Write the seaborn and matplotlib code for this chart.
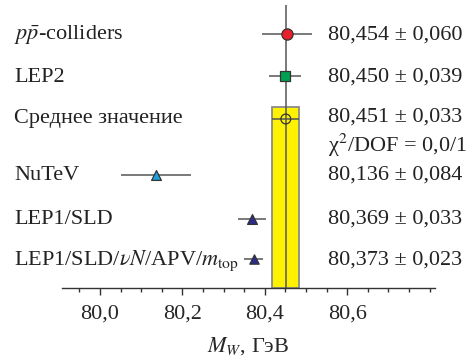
import matplotlib
matplotlib.use("Agg")
import matplotlib.pyplot as plt
import matplotlib.transforms as mtransforms
from matplotlib.ticker import FixedLocator, FixedFormatter, MultipleLocator
import seaborn as sns
import pandas as pd

# ---- data ----
labels = ["$p\\bar{p}$-colliders", "LEP2", "Среднее значение", "NuTeV",
          "LEP1/SLD", "LEP1/SLD/$\\nu N$/APV/$m_{\\rm top}$"]
values = [80.454, 80.450, 80.451, 80.136, 80.369, 80.373]
errors = [0.060, 0.039, 0.033, 0.084, 0.033, 0.023]
value_texts = ["80,454 ± 0,060", "80,450 ± 0,039", "80,451 ± 0,033", "80,136 ± 0,084",
               "80,369 ± 0,033", "80,373 ± 0,023"]
chi2_text = "χ$^2$/DOF = 0,0/1"
mean_value = 80.451
mean_error = 0.033
tick_values = [80.0, 80.2, 80.4, 80.6]
tick_labels = ["80,0", "80,2", "80,4", "80,6"]
xlabel = "$M_W$, ГэВ"

# ---- layout / style ----
row_y = [33.5, 76, 119, 175, 219, 259]
label_y = [35, 77, 119, 175, 219, 261]
text_y = [35, 77, 117, 175, 219, 260]
chi_y = 145
kinds = ["pp", "lep2", "avg", "nutev", "lep1", "lep1b"]
palette = {"pp": "#e82028", "lep2": "#00a050", "avg": "#fff200",
           "nutev": "#1ea0dc", "lep1": "#2c2c8c", "lep1b": "#2c2c8c"}
markers = {"pp": "o", "lep2": "s", "avg": "o", "nutev": "^", "lep1": "^", "lep1b": "^"}
sizes = {"pp": 65, "lep2": 42, "avg": 50, "nutev": 50, "lep1": 50, "lep1b": 45}

sns.set_theme(style="white")
plt.rcParams["font.family"] = ["Liberation Serif", "DejaVu Serif"]
plt.rcParams["mathtext.fontset"] = "stix"
FS = 16

fig = plt.figure(figsize=(4.67, 3.60), dpi=100)
ax = fig.add_axes([62 / 467, 1 - 288 / 360, (435 - 62) / 467, (288 - 5) / 360])
ax.set_xlim(79.908, 80.813)
ax.set_ylim(288, 5)

grey = "#555555"
# yellow band for average
ax.bar(mean_value, 288 - 106.7, width=2 * mean_error, bottom=106.7,
       color="#fff200", edgecolor="#8a8a8a", linewidth=1.3, zorder=1)
# central vertical line
ax.vlines(mean_value, 5, 288, color=grey, linewidth=1.1, zorder=2)
# error bars
for v, e, y in zip(values, errors, row_y):
    ax.hlines(y, v - e, v + e, color=grey, linewidth=1.1, zorder=2)

df = pd.DataFrame({"x": values, "y": row_y, "kind": kinds})
for k in kinds:
    sub = df[df["kind"] == k]
    face = "none" if k == "avg" else palette[k]
    sns.scatterplot(data=sub, x="x", y="y", marker=markers[k], s=sizes[k],
                    color=face, edgecolor="#333333", linewidth=0.9,
                    legend=False, ax=ax, zorder=3)

# left labels
blend = mtransforms.blended_transform_factory(fig.transFigure, ax.transData)
for lab, y in zip(labels, label_y):
    ax.text(14 / 467, y, lab, transform=blend, fontsize=FS, ha="left",
            va="center", clip_on=False, color="#222222")
# value texts
for t, y in zip(value_texts, text_y):
    ax.text(80.553, y, t, fontsize=FS, ha="left", va="center",
            clip_on=False, color="#222222")
ax.text(80.553, chi_y, chi2_text, fontsize=FS, ha="left", va="center",
        clip_on=False, color="#222222")

# axes styling
sns.despine(ax=ax, left=True, top=True, right=True)
ax.spines["bottom"].set_color("#333333")
ax.spines["bottom"].set_linewidth(1.0)
ax.set_yticks([])
ax.set_ylabel("")
ax.xaxis.set_major_locator(FixedLocator(tick_values))
ax.xaxis.set_major_formatter(FixedFormatter(tick_labels))
ax.xaxis.set_minor_locator(MultipleLocator(0.05))
ax.tick_params(axis="x", which="major", direction="out", length=5, width=1,
               color="#333333", labelsize=FS, pad=7, bottom=True)
ax.tick_params(axis="x", which="minor", direction="out", length=3, width=1,
               color="#333333", bottom=True)
ax.set_xlabel(xlabel, fontsize=FS, labelpad=8)
ax.patch.set_alpha(0)

fig.savefig("out.png", dpi=100)
